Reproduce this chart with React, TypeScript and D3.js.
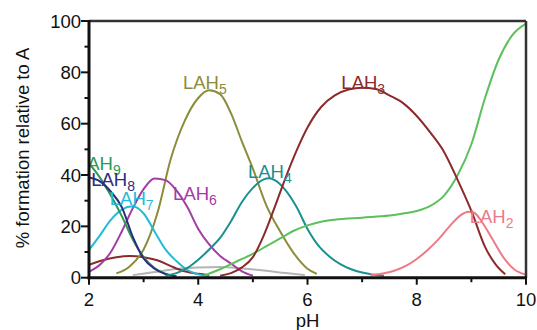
import * as d3 from "d3"

// pH grid + % formation for each species
const lah9PH = [2.0, 2.2, 2.4, 2.6, 2.8, 3.0, 3.2, 3.4, 3.6]
const lah9 = [44.5, 39, 32, 24, 15, 8, 3.8, 1.6, 0.6]

const lah8PH = [2.0, 2.2, 2.4, 2.6, 2.8, 3.0, 3.2, 3.4, 3.6]
const lah8 = [39, 37.5, 33.5, 27.5, 16, 7.5, 3.5, 1.4, 0.5]

const lah7PH = [2.0, 2.2, 2.4, 2.6, 2.8, 3.0, 3.2, 3.4, 3.6, 3.8, 4.0, 4.2]
const lah7 = [10.8, 16.5, 22.5, 26.5, 27.8, 25, 18, 11, 6.5, 3, 1.3, 0.5]

const lah6PH = [2.0, 2.2, 2.4, 2.6, 2.8, 3.0, 3.2, 3.4, 3.6, 3.8, 4.0, 4.2, 4.4, 4.6, 4.8, 5.0]
const lah6 = [2.3, 5, 10, 18, 27, 34.5, 38.6, 38, 34, 27.5, 19, 13, 8.5, 5.5, 2.5, 0.8]

const lah5PH = [2.5, 2.75, 3.0, 3.25, 3.5, 3.75, 4.0, 4.2, 4.4, 4.6, 4.8, 5.0, 5.25, 5.5, 5.75, 6.0, 6.17]
const lah5 = [1.7, 4.5, 11, 25, 46.5, 61, 70, 73, 71.5, 64, 53, 42.5, 28, 18, 9.5, 3.5, 1.5]

const lah4PH = [3.4, 3.6, 3.8, 4.0, 4.2, 4.4, 4.6, 4.8, 5.0, 5.2, 5.3, 5.4, 5.6, 5.8, 6.0, 6.2, 6.4, 6.6, 6.8, 7.0, 7.2, 7.4]
const lah4 = [0.8, 1.8, 3.8, 7, 11, 15.5, 22, 29.5, 35, 38.3, 38.7, 38, 34, 27.5, 19, 12.5, 8.3, 5.3, 3.3, 2, 1.2, 0.8]

const lah3aPH = [2.0, 2.25, 2.5, 2.75, 3.0, 3.25, 3.5, 3.75, 4.0, 4.2]
const lah3a = [5, 6.8, 8, 8.5, 8, 6.8, 4.5, 2.5, 1.5, 1.0]

const lah3PH = [4.4, 4.6, 4.8, 5.0, 5.2, 5.4, 5.6, 5.8, 6.0, 6.25, 6.5, 6.75, 7.0, 7.25, 7.5, 7.75, 8.0, 8.25, 8.5, 8.75, 9.0, 9.25, 9.45, 9.62]
const lah3 = [0.8, 1.8, 4, 8, 16.5, 27.5, 39, 49.5, 58.5, 66.5, 71, 73.3, 74, 73.5, 71, 68, 63, 56.5, 49, 38, 26, 12, 5, 1.3]

const lah2PH = [7.15, 7.4, 7.6, 7.8, 8.0, 8.2, 8.4, 8.6, 8.8, 8.95, 9.05, 9.2, 9.4, 9.6, 9.8, 10.0]
const lah2 = [1, 1.7, 2.8, 4.6, 7.3, 10.8, 15, 20, 24.3, 25.7, 25.3, 21.5, 14.5, 7.5, 3, 1.2]

const laPH = [4.1, 4.4, 4.6, 4.8, 5.0, 5.25, 5.5, 5.75, 6.0, 6.25, 6.5, 7.0, 7.5, 7.75, 8.0, 8.25, 8.5, 8.75, 9.0, 9.25, 9.5, 9.75, 10.0]
const la = [0.8, 3.3, 5.3, 7.3, 9.3, 12.3, 15.3, 18.3, 20.4, 21.8, 22.6, 23.4, 24.2, 25, 26, 28, 32, 40, 52, 70, 85, 94.5, 99]

const grayPH = [2.8, 3.2, 3.6, 4.0, 4.4, 4.8, 5.2, 5.6, 5.95]
const gray = [1, 2.2, 3.4, 4, 4.2, 3.6, 2.8, 1.8, 1]

const xTicks = [2, 4, 6, 8, 10]
const xMinor = [3, 5, 7, 9]
const yTicks = [0, 20, 40, 60, 80, 100]
const yMinor = [10, 30, 50, 70, 90]

const series = [
  { ph: grayPH, v: gray, color: "#b4b4b4" },
  { ph: lah3aPH, v: lah3a, color: "#8b2a2a" },
  { ph: lah5PH, v: lah5, color: "#8c8c3a" },
  { ph: lah6PH, v: lah6, color: "#a43ca4" },
  { ph: lah7PH, v: lah7, color: "#22bcd8" },
  { ph: lah9PH, v: lah9, color: "#2a9a55" },
  { ph: lah8PH, v: lah8, color: "#2c2c80" },
  { ph: lah4PH, v: lah4, color: "#1a9090" },
  { ph: laPH, v: la, color: "#5cc05c" },
  { ph: lah2PH, v: lah2, color: "#ec7a88" },
  { ph: lah3PH, v: lah3, color: "#8b2a2a" },
]

// label anchors in data units (pH, %)
const labels = [
  { sub: "5", ph: 3.72, pct: 73.5, color: "#8c8c3a" },
  { sub: "3", ph: 6.62, pct: 73.5, color: "#8b2a2a" },
  { sub: "4", ph: 4.91, pct: 38.8, color: "#1a9090" },
  { sub: "6", ph: 3.54, pct: 30.3, color: "#a43ca4" },
  { sub: "7", ph: 2.38, pct: 28.3, color: "#22bcd8" },
  { sub: "9", ph: 1.78, pct: 42, color: "#2a9a55" },
  { sub: "8", ph: 2.04, pct: 35.7, color: "#2c2c80" },
  { sub: "2", ph: 8.97, pct: 21.3, color: "#ec7a88" },
]

export default function App() {
  const width = 537
  const height = 330
  const x = d3.scaleLinear().domain([2, 10]).range([89, 526])
  const y = d3.scaleLinear().domain([0, 100]).range([277.7, 21])
  const font = "'Liberation Sans', Arial, sans-serif"

  const line = d3
    .line<[number, number]>()
    .x((d) => x(d[0]))
    .y((d) => y(d[1]))
    .curve(d3.curveMonotoneX)

  return (
    <svg width={width} height={height} style={{ position: "absolute", left: 0, top: 0 }} fontFamily={font}>
      <defs>
        <clipPath id="plot">
          <rect x={x(2)} y={0} width={x(10) - x(2)} height={y(0)} />
        </clipPath>
      </defs>
      <g clipPath="url(#plot)">
        {series.map((s, i) => (
          <path
            key={i}
            d={line(s.ph.map((p, j) => [p, s.v[j]] as [number, number])) || ""}
            fill="none"
            stroke={s.color}
            strokeWidth={2}
          />
        ))}
        {labels.map((l, i) => (
          <text key={i} x={x(l.ph)} y={y(l.pct)} fill={l.color} fontSize={18.5}>
            LAH
            <tspan fontSize={14} dy={5}>
              {l.sub}
            </tspan>
          </text>
        ))}
      </g>

      {/* frame */}
      <line x1={x(2)} x2={x(10)} y1={y(100)} y2={y(100)} stroke="#333" strokeWidth={2.5} />
      <line x1={x(10)} x2={x(10)} y1={y(100)} y2={y(0)} stroke="#333" strokeWidth={2.5} />
      <line x1={x(2)} x2={x(2)} y1={y(100) - 1} y2={y(0) + 1.5} stroke="#111" strokeWidth={3} />
      <line x1={x(2) - 1.5} x2={x(10) + 1} y1={y(0)} y2={y(0)} stroke="#111" strokeWidth={3} />

      {/* y axis */}
      {yTicks.map((t) => (
        <g key={t}>
          <line x1={x(2) - 8} x2={x(2)} y1={y(t)} y2={y(t)} stroke="#111" strokeWidth={2} />
          <text x={x(2) - 8} y={y(t)} dy="0.36em" textAnchor="end" fontSize={18.5} fill="#111">
            {t}
          </text>
        </g>
      ))}
      {yMinor.map((t) => (
        <line key={t} x1={x(2) - 4.5} x2={x(2)} y1={y(t)} y2={y(t)} stroke="#111" strokeWidth={2} />
      ))}

      {/* x axis */}
      {xTicks.map((t) => (
        <g key={t}>
          <line x1={x(t)} x2={x(t)} y1={y(0)} y2={y(0) + 7} stroke="#111" strokeWidth={2} />
          <text x={x(t)} y={306} textAnchor="middle" fontSize={18.5} fill="#111">
            {t}
          </text>
        </g>
      ))}
      {xMinor.map((t) => (
        <line key={t} x1={x(t)} x2={x(t)} y1={y(0)} y2={y(0) + 4.5} stroke="#111" strokeWidth={2} />
      ))}

      <text x={x(6)} y={327} textAnchor="middle" fontSize={18.5} fill="#111">
        pH
      </text>
      <text
        transform={`translate(29,148) rotate(-90)`}
        textAnchor="middle"
        fontSize={18.5}
        fill="#111"
      >
        % formation relative to A
      </text>
    </svg>
  )
}
